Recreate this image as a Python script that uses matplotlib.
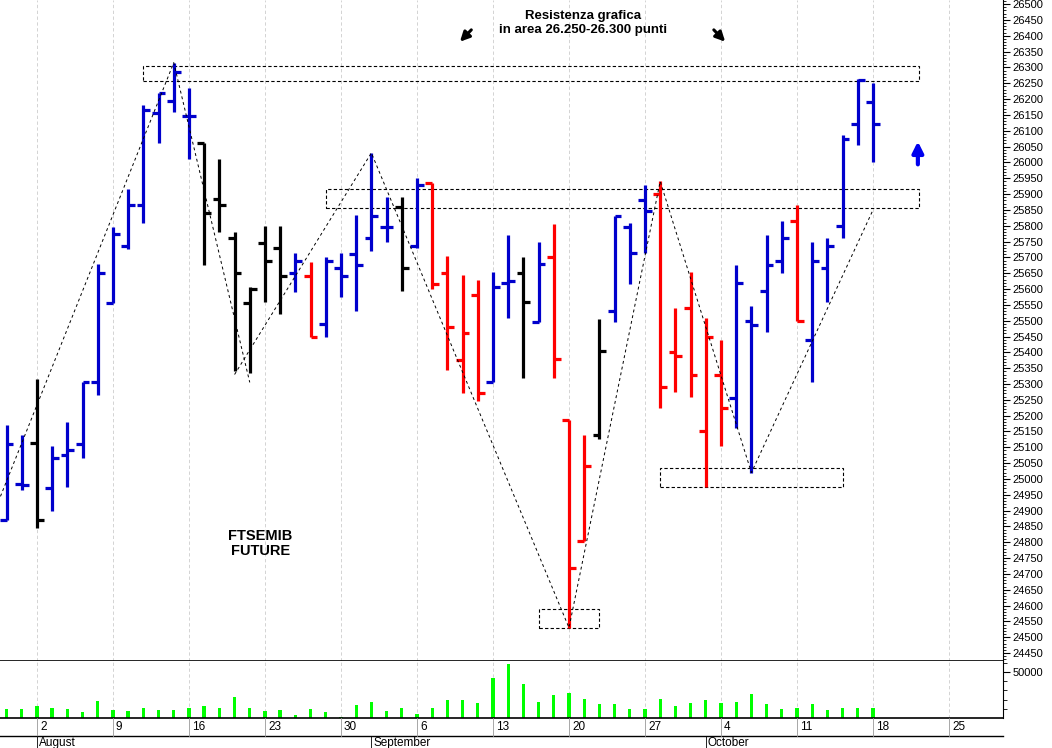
import numpy as np
import matplotlib
matplotlib.use('Agg')
import matplotlib.pyplot as plt
from matplotlib.patches import Rectangle

plt.rcParams['font.family'] = ['Liberation Sans', 'DejaVu Sans']

# trading day index, 0 = 2 Aug 2021
days = list(range(-2, 56))
opens = [24870, 24985, 25115, 24970, 25075, 25110, 25305, 25555, 25735, 25865, 26155, 26195,
         26145, 26060, 25885, 25760, 25555, 25745, 25730, 25650, 25640, 25490, 25665, 25710,
         25760, 25795, 25860, 25735, 25935, 25650, 25375, 25580, 25305, 25620, 25650, 25495,
         25700, 25185, 24805, 25140, 25530, 25795, 25880, 25900, 25400, 25540, 25150, 25330,
         25255, 25500, 25595, 25690, 25815, 25440, 25665, 25800, 26120, 26190]
highs = [25170, 25140, 25315, 25105, 25180, 25305, 25680, 25795, 25915, 26180, 26220, 26315,
         26235, 26060, 26010, 25780, 25605, 25800, 25800, 25715, 25685, 25700, 25715, 25835,
         26030, 25890, 25890, 25950, 25935, 25705, 25645, 25630, 25655, 25770, 25700, 25750,
         25805, 25185, 25140, 25505, 25830, 25810, 25930, 25940, 25540, 25655, 25510, 25440,
         25675, 25545, 25770, 25815, 25865, 25750, 25760, 26085, 26265, 26250]
lows = [24870, 24965, 24845, 24900, 24975, 25065, 25265, 25555, 25725, 25810, 26060, 26160,
        26010, 25675, 25780, 25340, 25335, 25560, 25520, 25590, 25450, 25450, 25575, 25530,
        25720, 25750, 25595, 25730, 25600, 25345, 25270, 25245, 25305, 25510, 25320, 25495,
        25320, 24530, 24805, 25125, 25495, 25615, 25715, 25225, 25275, 25260, 24975, 25105,
        25160, 25020, 25465, 25650, 25500, 25305, 25560, 25760, 26055, 26000]
closes = [25110, 24980, 24870, 25065, 25090, 25305, 25650, 25775, 25865, 26165, 26220, 26285,
          26145, 25840, 25865, 25650, 25600, 25690, 25640, 25690, 25450, 25690, 25640, 25675,
          25830, 25795, 25665, 25930, 25615, 25480, 25460, 25270, 25605, 25625, 25560, 25680,
          25380, 24720, 25040, 25405, 25830, 25715, 25845, 25290, 25390, 25330, 25450, 25225,
          25620, 25485, 25675, 25760, 25500, 25690, 25735, 26075, 26260, 26120]
bar_colors = (['b', 'b', 'k'] + ['b'] * 10 + ['k'] * 6 + ['b', 'r'] + ['b'] * 5 + ['k', 'b']
              + ['r'] * 4 + ['b', 'b', 'k', 'b'] + ['r'] * 3 + ['k'] + ['b'] * 3 + ['r'] * 5
              + ['b'] * 4 + ['r'] + ['b'] * 5)
volumes = [9560, 10290, 13230, 11400, 9560, 6620, 18380, 9190, 7720, 11400, 8450, 8450,
           11030, 13230, 11400, 22790, 11400, 7720, 8450, 3680, 9560, 6980, 900, 13970,
           17280, 7350, 11400, 4410, 11400, 19480, 19480, 15810, 43010, 58820, 37500, 16910,
           25000, 27200, 20590, 15440, 15440, 9560, 9560, 20950, 12870, 16170, 19480, 15810,
           17280, 25730, 14700, 10290, 11030, 14700, 8450, 10660, 11400, 11400]

monday_idx = [0, 5, 10, 15, 20, 25, 30, 35, 40, 45, 50, 55, 60]
monday_lbl = ['2', '9', '16', '23', '30', '6', '13', '20', '27', '4', '11', '18', '25']
months = ['August', 'September', 'October']
month_idx = [0, 22, 44]

# zigzag lines (day index, price)
zig1_x = [-2.4, 9, 14]
zig1_y = [24945, 26315, 25305]
zig2_x = [13, 22, 35, 41, 47, 55]
zig2_y = [25330, 26030, 24530, 25940, 25020, 25850]
# dashed boxes: (day start, day end, price low, price high)
boxes = [(7, 58, 26257, 26305), (19, 58, 25855, 25915), (33, 37, 24530, 24590), (41, 53, 24975, 25035)]

palette = {'b': '#0000cc', 'r': '#ff0000', 'k': '#000000'}
W, H = 1052, 748
fig = plt.figure(figsize=(W / 100, H / 100), dpi=100)
ax = fig.add_axes([0, 87 / H, 1003 / W, 661 / H])
axv = fig.add_axes([0, 30 / H, 1003 / W, 57 / H], sharex=ax)

xmin, xmax = -2.43, 63.55
for d, o, h, l, c, col in zip(days, opens, highs, lows, closes, bar_colors):
    cc = palette[col]
    ax.plot([d, d], [l, h], color=cc, lw=2.3, solid_capstyle='butt')
    ax.plot([d - 0.45, d], [o, o], color=cc, lw=2.3, solid_capstyle='butt')
    ax.plot([d, d + 0.45], [c, c], color=cc, lw=2.3, solid_capstyle='butt')

ax.plot(zig1_x, zig1_y, color='k', lw=0.7, ls=(0, (3, 3)))
ax.plot(zig2_x, zig2_y, color='k', lw=0.7, ls=(0, (3, 3)))
for x0, x1, y0, y1 in boxes:
    ax.add_patch(Rectangle((x0, y0), x1 - x0, y1 - y0, fill=False, ec='k', lw=0.8, ls=(0, (3, 2))))

ax.text(35.9, 26440, 'Resistenza grafica\nin area 26.250-26.300 punti', ha='center', va='center',
        fontsize=9.5, fontweight='bold', linespacing=1.2)
ax.annotate('', xy=(27.7, 26375), xytext=(28.7, 26425),
            arrowprops=dict(arrowstyle='-|>', color='k', lw=2.2, mutation_scale=14))
ax.annotate('', xy=(45.4, 26375), xytext=(44.4, 26425),
            arrowprops=dict(arrowstyle='-|>', color='k', lw=2.2, mutation_scale=14))
ax.annotate('', xy=(57.95, 26075), xytext=(57.95, 25985),
            arrowprops=dict(arrowstyle='-|>', color='#0000ee', lw=3, mutation_scale=16))
ax.text(14.7, 24795, 'FTSEMIB\nFUTURE', ha='center', va='center', fontsize=10.5,
        fontweight='bold', linespacing=1.1)

ax.set_xlim(xmin, xmax)
ax.set_ylim(24425, 26513)
ax.yaxis.tick_right()
ax.set_yticks(np.arange(24450, 26501, 50))
ax.set_yticks(np.arange(24430, 26511, 10), minor=True)
ax.tick_params(axis='y', which='major', length=5, labelsize=8, pad=2)
ax.tick_params(axis='y', which='minor', length=2.5)
ax.tick_params(axis='x', which='both', length=0, labelbottom=False)
for m in monday_idx:
    ax.axvline(m, color='#cccccc', lw=0.6, ls=(0, (4, 3)), zorder=0)
    axv.axvline(m, color='#cccccc', lw=0.6, ls=(0, (4, 3)), zorder=0)
for s in ['top', 'left']:
    ax.spines[s].set_visible(False)
    axv.spines[s].set_visible(False)
ax.spines['bottom'].set_linewidth(1.2)
axv.spines['bottom'].set_linewidth(1.2)

axv.bar(days, volumes, width=0.22, color='#00ff00')
axv.set_ylim(0, 62000)
axv.yaxis.tick_right()
axv.set_yticks([50000])
axv.set_yticks([10000, 20000, 30000, 40000, 50000, 60000], minor=True)
axv.tick_params(axis='y', which='major', length=5, labelsize=8, pad=2)
axv.tick_params(axis='y', which='minor', length=3)
axv.set_xticks(monday_idx)
axv.set_xticklabels([])
axv.tick_params(axis='x', length=0)
axv.set_xlim(xmin, xmax)

# date labels below the volume panel
fig.add_artist(plt.Line2D([0, 1003 / W], [12 / H, 12 / H], color='k', lw=1))
for m, lbl in zip(monday_idx, monday_lbl):
    xf = (m - xmin) / (xmax - xmin) * 1003 / W
    fig.add_artist(plt.Line2D([xf, xf], [12 / H, 30 / H], color='#999999', lw=0.6))
    fig.text(xf + 3 / W, 21 / H, lbl, fontsize=8.5, va='center', ha='left')
for m, lbl in zip(month_idx, months):
    xf = (m - xmin) / (xmax - xmin) * 1003 / W
    fig.add_artist(plt.Line2D([xf, xf], [0, 12 / H], color='k', lw=0.6))
    fig.text(xf + 2 / W, 5 / H, lbl, fontsize=8.5, va='center', ha='left')

fig.savefig('out.png', dpi=100)
